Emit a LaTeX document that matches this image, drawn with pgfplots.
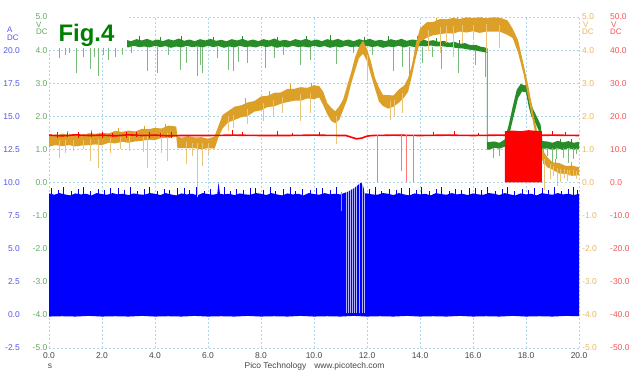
\documentclass[border=0pt]{standalone}
\usepackage{pgfplots}
\pgfplotsset{compat=1.18}
\usepackage{fontspec}
\setmainfont{Liberation Sans}
\definecolor{trblue}{RGB}{0,0,255}
\definecolor{trgreen}{RGB}{40,140,40}
\definecolor{trorange}{RGB}{220,160,40}
\definecolor{trred}{RGB}{255,0,0}
\definecolor{spgreen}{RGB}{120,186,120}
\definecolor{sporange}{RGB}{236,196,120}
\definecolor{spred}{RGB}{255,120,120}
\definecolor{lblblue}{RGB}{85,85,235}
\definecolor{lblgreen}{RGB}{100,165,100}
\definecolor{lblorange}{RGB}{232,182,90}
\definecolor{lblred}{RGB}{245,85,85}
\definecolor{gridc}{RGB}{175,215,235}
\definecolor{lblgray}{RGB}{70,70,70}
\definecolor{figgreen}{RGB}{0,128,0}
\pgfplotsset{
  base/.style={at={(0bp,0bp)}, anchor=south west, scale only axis,
    width=530bp, height=331bp, xmin=0, xmax=20,
    axis line style={draw=none}, major tick length=0pt,
    tick style={draw=none},
    tick label style={font=\fontsize{8.5}{10}\selectfont, inner sep=0pt},
    /pgf/number format/fixed, /pgf/number format/fixed zerofill,
    /pgf/number format/precision=1, /pgf/number format/assume math mode=true},
}
\begin{document}
\begin{tikzpicture}
\useasboundingbox (-49bp,-28bp) rectangle (585bp,348bp);
\begin{axis}[base, ymin=-5, ymax=5, xtick={0,2,4,6,8,10,12,14,16,18,20},
  ytick={-5,-4,-3,-2,-1,0,1,2,3,4,5},
  grid=major, major grid style={draw=gridc, dash pattern=on 2bp off 2bp, line width=0.6bp},
  xticklabel style={text=lblgray, anchor=north, yshift=-4bp},
  yticklabel style={text=lblgreen, anchor=east, xshift=-1.5bp},
  unbounded coords=jump]
% ---- Channel A (blue), current
\addplot[draw=none, fill=trblue] coordinates {
(0.0,-0.33)(0.2,-0.37)(0.4,-0.32)(0.6,-0.36)(0.8,-0.39)(1.0,-0.33)(1.2,-0.36)(1.4,-0.34)(1.6,-0.39)(1.8,-0.32)
(2.0,-0.35)(2.2,-0.37)(2.4,-0.32)(2.6,-0.36)(2.8,-0.34)(3.0,-0.38)(3.2,-0.33)(3.4,-0.36)(3.6,-0.37)(3.8,-0.32)
(4.0,-0.34)(4.2,-0.38)(4.4,-0.32)(4.6,-0.36)(4.8,-0.39)(5.0,-0.33)(5.2,-0.36)(5.4,-0.34)(5.6,-0.39)(5.8,-0.32)
(6.0,-0.35)(6.2,-0.37)(6.35,-0.34)(6.4,0.0)(6.45,-0.34)(6.6,-0.36)(6.8,-0.34)(7.0,-0.38)(7.2,-0.33)(7.4,-0.36)(7.6,-0.37)(7.8,-0.32)
(8.0,-0.34)(8.2,-0.38)(8.4,-0.32)(8.6,-0.36)(8.8,-0.39)(9.0,-0.33)(9.2,-0.36)(9.4,-0.34)(9.6,-0.39)(9.8,-0.32)
(10.0,-0.35)(10.2,-0.37)(10.4,-0.32)(10.6,-0.36)(10.8,-0.34)(11.0,-0.36)(11.2,-0.30)(11.3,-0.27)(11.4,-0.22)(11.5,-0.18)
(11.6,-0.12)(11.7,-0.05)(11.78,0.0)(11.85,-0.10)(11.92,-0.33)(12.0,-0.33)(12.2,-0.36)(12.4,-0.37)(12.6,-0.32)(12.8,-0.34)
(13.0,-0.38)(13.2,-0.32)(13.4,-0.36)(13.6,-0.39)(13.8,-0.33)(14.0,-0.36)(14.2,-0.34)(14.4,-0.39)(14.6,-0.32)(14.8,-0.35)
(15.0,-0.37)(15.2,-0.32)(15.4,-0.36)(15.6,-0.34)(15.8,-0.38)(16.0,-0.33)(16.2,-0.36)(16.4,-0.37)(16.6,-0.32)(16.8,-0.34)
(17.0,-0.38)(17.2,-0.32)(17.4,-0.36)(17.6,-0.39)(17.8,-0.33)(18.0,-0.36)(18.2,-0.34)(18.4,-0.39)(18.6,-0.32)(18.8,-0.35)
(19.0,-0.37)(19.2,-0.32)(19.4,-0.36)(19.6,-0.34)(19.8,-0.38)(20.0,-0.34)
(20,-4.04)(19.5,-4.03)(19,-4.05)(18.5,-4.04)(18,-4.05)(17.5,-4.03)(17,-4.05)(16.5,-4.04)(16,-4.05)(15.5,-4.03)
(15,-4.05)(14.5,-4.04)(14,-4.05)(13.5,-4.03)(13,-4.05)(12.5,-4.04)(12,-4.05)(11.5,-4.03)(11,-4.05)(10.5,-4.04)
(10,-4.05)(9.5,-4.03)(9,-4.05)(8.5,-4.04)(8,-4.05)(7.5,-4.03)(7,-4.05)(6.5,-4.04)(6,-4.05)(5.5,-4.03)
(5,-4.05)(4.5,-4.04)(4,-4.05)(3.5,-4.03)(3,-4.05)(2.5,-4.04)(2,-4.05)(1.5,-4.03)(1,-4.05)(0.5,-4.04)(0,-4.05)};
% blue noise on the top edge
\addplot[trblue, line width=0.6bp] coordinates {
(0.10,-0.4)(0.10,-0.18)(0.10,nan)(0.35,-0.4)(0.35,-0.24)(0.35,nan)(0.55,-0.4)(0.55,-0.15)(0.55,nan)(0.85,-0.4)(0.85,-0.27)(0.85,nan)
(1.10,-0.4)(1.10,-0.20)(1.10,nan)(1.30,-0.4)(1.30,-0.13)(1.30,nan)(1.55,-0.4)(1.55,-0.25)(1.55,nan)(1.85,-0.4)(1.85,-0.19)(1.85,nan)
(2.10,-0.4)(2.10,-0.22)(2.10,nan)(2.30,-0.4)(2.30,-0.16)(2.30,nan)(2.60,-0.4)(2.60,-0.18)(2.60,nan)(2.85,-0.4)(2.85,-0.24)(2.85,nan)
(3.05,-0.4)(3.05,-0.15)(3.05,nan)(3.35,-0.4)(3.35,-0.27)(3.35,nan)(3.60,-0.4)(3.60,-0.20)(3.60,nan)(3.80,-0.4)(3.80,-0.13)(3.80,nan)
(4.10,-0.4)(4.10,-0.25)(4.10,nan)(4.35,-0.4)(4.35,-0.19)(4.35,nan)(4.55,-0.4)(4.55,-0.22)(4.55,nan)(4.85,-0.4)(4.85,-0.16)(4.85,nan)
(5.10,-0.4)(5.10,-0.18)(5.10,nan)(5.30,-0.4)(5.30,-0.24)(5.30,nan)(5.55,-0.4)(5.55,-0.15)(5.55,nan)(5.85,-0.4)(5.85,-0.27)(5.85,nan)
(6.10,-0.4)(6.10,-0.20)(6.10,nan)(6.60,-0.4)(6.60,-0.13)(6.60,nan)(6.85,-0.4)(6.85,-0.25)(6.85,nan)(7.05,-0.4)(7.05,-0.19)(7.05,nan)
(7.35,-0.4)(7.35,-0.22)(7.35,nan)(7.60,-0.4)(7.60,-0.16)(7.60,nan)(7.80,-0.4)(7.80,-0.18)(7.80,nan)(8.10,-0.4)(8.10,-0.24)(8.10,nan)
(8.35,-0.4)(8.35,-0.15)(8.35,nan)(8.55,-0.4)(8.55,-0.27)(8.55,nan)(8.85,-0.4)(8.85,-0.20)(8.85,nan)(9.10,-0.4)(9.10,-0.13)(9.10,nan)
(9.30,-0.4)(9.30,-0.25)(9.30,nan)(9.55,-0.4)(9.55,-0.19)(9.55,nan)(9.85,-0.4)(9.85,-0.22)(9.85,nan)(10.10,-0.4)(10.10,-0.16)(10.10,nan)
(10.30,-0.4)(10.30,-0.18)(10.30,nan)(10.60,-0.4)(10.60,-0.24)(10.60,nan)(10.85,-0.4)(10.85,-0.15)(10.85,nan)
(12.10,-0.4)(12.10,-0.20)(12.10,nan)(12.30,-0.4)(12.30,-0.13)(12.30,nan)(12.55,-0.4)(12.55,-0.25)(12.55,nan)(12.85,-0.4)(12.85,-0.19)(12.85,nan)
(13.10,-0.4)(13.10,-0.22)(13.10,nan)(13.30,-0.4)(13.30,-0.16)(13.30,nan)(13.60,-0.4)(13.60,-0.18)(13.60,nan)(13.85,-0.4)(13.85,-0.24)(13.85,nan)
(14.05,-0.4)(14.05,-0.15)(14.05,nan)(14.35,-0.4)(14.35,-0.27)(14.35,nan)(14.60,-0.4)(14.60,-0.20)(14.60,nan)(14.80,-0.4)(14.80,-0.13)(14.80,nan)
(15.10,-0.4)(15.10,-0.25)(15.10,nan)(15.35,-0.4)(15.35,-0.19)(15.35,nan)(15.55,-0.4)(15.55,-0.22)(15.55,nan)(15.85,-0.4)(15.85,-0.16)(15.85,nan)
(16.10,-0.4)(16.10,-0.18)(16.10,nan)(16.30,-0.4)(16.30,-0.24)(16.30,nan)(16.55,-0.4)(16.55,-0.15)(16.55,nan)(16.85,-0.4)(16.85,-0.27)(16.85,nan)
(17.10,-0.4)(17.10,-0.20)(17.10,nan)(17.30,-0.4)(17.30,-0.13)(17.30,nan)(17.55,-0.4)(17.55,-0.25)(17.55,nan)(17.85,-0.4)(17.85,-0.19)(17.85,nan)
(18.10,-0.4)(18.10,-0.22)(18.10,nan)(18.30,-0.4)(18.30,-0.16)(18.30,nan)(18.60,-0.4)(18.60,-0.18)(18.60,nan)(18.85,-0.4)(18.85,-0.24)(18.85,nan)
(19.05,-0.4)(19.05,-0.15)(19.05,nan)(19.35,-0.4)(19.35,-0.27)(19.35,nan)(19.60,-0.4)(19.60,-0.20)(19.60,nan)(19.80,-0.4)(19.80,-0.14)(19.80,nan)
(19.95,-0.4)(19.95,-0.22)};
% gaps in the blue trace
\addplot[white, opacity=0.7, line width=0.9bp] coordinates {
(11.22,-3.95)(11.22,0.0)(11.22,nan)(11.30,-3.95)(11.30,0.0)(11.30,nan)(11.38,-3.95)(11.38,0.0)(11.38,nan)
(11.46,-3.95)(11.46,0.0)(11.46,nan)(11.54,-3.95)(11.54,0.0)(11.54,nan)(11.62,-3.95)(11.62,0.0)(11.62,nan)
(11.70,-3.95)(11.70,0.0)(11.70,nan)(11.81,-3.95)(11.81,0.05)(11.81,nan)(11.90,-3.95)(11.90,0.0)};
\addplot[color={rgb,255:red,140;green,140;blue,255}, line width=0.8bp] coordinates {(11.05,-0.30)(11.05,-0.85)};
% ---- Channel B (green)
\addplot[draw=none, fill=trgreen] coordinates {
(0,4.30)(1,4.30)(2,4.30)(2.9,4.31)(3.1,4.27)(3.3,4.33)(3.5,4.29)(3.7,4.34)(3.9,4.28)(4.1,4.32)(4.3,4.27)(4.5,4.33)
(4.7,4.29)(4.9,4.35)(5.1,4.28)(5.3,4.32)(5.5,4.27)(5.7,4.33)(5.9,4.29)(6.1,4.34)(6.3,4.28)(6.5,4.31)(6.7,4.27)
(6.9,4.33)(7.1,4.29)(7.3,4.34)(7.5,4.28)(7.7,4.32)(7.9,4.27)(8.1,4.33)(8.3,4.29)(8.5,4.35)(8.7,4.28)(8.9,4.31)
(9.1,4.27)(9.3,4.33)(9.5,4.29)(9.7,4.34)(9.9,4.28)(10.1,4.32)(10.3,4.27)(10.5,4.33)(10.7,4.29)(10.9,4.34)(11.1,4.28)
(11.3,4.32)(11.5,4.27)(11.7,4.33)(11.9,4.29)(12.1,4.34)(12.3,4.28)(12.5,4.31)(12.7,4.27)(12.9,4.33)(13.1,4.29)
(13.3,4.34)(13.5,4.28)(13.7,4.32)(13.9,4.30)(14.1,4.33)(14.3,4.27)(14.5,4.30)(14.7,4.25)(14.9,4.28)(15.1,4.22)
(15.3,4.25)(15.5,4.19)(15.7,4.21)(15.9,4.15)(16.1,4.16)(16.3,4.10)(16.45,4.08)(16.55,4.05)
(16.55,1.22)(16.8,1.24)(17.0,1.20)(17.2,1.30)(17.35,1.75)(17.5,2.3)(17.65,2.8)(17.8,2.98)(17.95,2.93)(18.05,2.98)
(18.15,2.55)(18.25,2.25)(18.4,2.0)(18.55,1.75)(18.62,1.25)(18.8,1.24)(19.0,1.20)(19.2,1.26)(19.4,1.21)(19.6,1.25)
(19.8,1.20)(20,1.23)
(20,1.02)(19.8,0.99)(19.6,1.04)(19.4,0.98)(19.2,1.03)(19.0,0.99)(18.8,1.03)(18.6,1.01)(18.52,1.5)(18.35,1.8)
(18.2,2.0)(18.1,2.3)(18.0,2.72)(17.85,2.75)(17.7,2.55)(17.55,2.05)(17.4,1.55)(17.25,1.1)(17.0,1.02)(16.8,1.05)
(16.6,0.99)(16.52,1.0)(16.52,3.92)
(16.4,3.94)(16.2,3.97)(16.0,4.00)(15.8,4.02)(15.6,4.05)(15.4,4.06)(15.2,4.09)(15.0,4.10)(14.8,4.12)(14.6,4.11)
(14.4,4.14)(14.2,4.11)(14.0,4.13)(13.8,4.09)(13.6,4.12)(13.4,4.08)(13.2,4.13)(13.0,4.09)(12.8,4.11)(12.6,4.07)
(12.4,4.12)(12.2,4.09)(12.0,4.13)(11.8,4.08)(11.6,4.11)(11.4,4.09)(11.2,4.13)(11.0,4.08)(10.8,4.11)(10.6,4.07)
(10.4,4.12)(10.2,4.09)(10.0,4.13)(9.8,4.08)(9.6,4.11)(9.4,4.09)(9.2,4.13)(9.0,4.08)(8.8,4.11)(8.6,4.07)
(8.4,4.12)(8.2,4.09)(8.0,4.13)(7.8,4.08)(7.6,4.11)(7.4,4.09)(7.2,4.13)(7.0,4.08)(6.8,4.11)(6.6,4.07)
(6.4,4.12)(6.2,4.09)(6.0,4.13)(5.8,4.08)(5.6,4.11)(5.4,4.09)(5.2,4.13)(5.0,4.08)(4.8,4.11)(4.6,4.07)
(4.4,4.12)(4.2,4.09)(4.0,4.13)(3.8,4.08)(3.6,4.11)(3.4,4.09)(3.2,4.13)(3.0,4.08)(2.9,4.10)(2,4.10)(1,4.10)(0,4.10)};
% green noise above the band
\addplot[trgreen, line width=0.6bp] coordinates {
(3.4,4.25)(3.4,4.42)(3.4,nan)(4.2,4.25)(4.2,4.40)(4.2,nan)(5.0,4.25)(5.0,4.44)(5.0,nan)(6.2,4.25)(6.2,4.41)(6.2,nan)
(7.3,4.25)(7.3,4.43)(7.3,nan)(8.6,4.25)(8.6,4.40)(8.6,nan)(9.7,4.25)(9.7,4.42)(9.7,nan)(10.6,4.25)(10.6,4.45)(10.6,nan)
(11.9,4.25)(11.9,4.40)(11.9,nan)(12.8,4.25)(12.8,4.42)(12.8,nan)(13.9,4.25)(13.9,4.44)(13.9,nan)(14.6,4.22)(14.6,4.38)(14.6,nan)
(15.5,4.15)(15.5,4.30)(15.5,nan)(19.3,1.15)(19.3,1.32)(19.3,nan)(19.7,1.15)(19.7,1.30)};
\addplot[spgreen, line width=0.7bp] coordinates {
(0.4,4.1)(0.4,3.77)(0.4,nan)(0.6,4.1)(0.6,3.85)(0.6,nan)(0.75,4.1)(0.75,3.9)(0.75,nan)(1.05,4.1)(1.05,3.32)(1.05,nan)
(1.3,4.1)(1.3,3.78)(1.3,nan)(1.55,4.1)(1.55,3.43)(1.55,nan)(1.7,4.1)(1.7,3.8)(1.7,nan)(1.85,4.1)(1.85,3.22)(1.85,nan)
(2.05,4.1)(2.05,3.85)(2.05,nan)(2.25,4.1)(2.25,3.7)(2.25,nan)(2.5,4.1)(2.5,3.8)(2.5,nan)(2.75,4.1)(2.75,3.85)(2.75,nan)
(3.1,4.1)(3.1,3.9)(3.1,nan)(3.7,4.1)(3.7,3.37)(3.7,nan)(4.1,4.1)(4.1,3.32)(4.1,nan)(4.5,4.1)(4.5,3.85)(4.5,nan)
(4.95,4.1)(4.95,3.4)(4.95,nan)(5.2,4.1)(5.2,3.6)(5.2,nan)(5.6,4.1)(5.6,3.22)(5.6,nan)(5.7,4.1)(5.7,3.55)(5.7,nan)
(5.8,4.1)(5.8,3.32)(5.8,nan)(6.35,4.1)(6.35,3.75)(6.35,nan)(6.75,4.1)(6.75,3.4)(6.75,nan)(6.95,4.1)(6.95,3.37)(6.95,nan)
(7.15,4.1)(7.15,3.65)(7.15,nan)(7.5,4.1)(7.5,3.6)(7.5,nan)(8.15,4.1)(8.15,3.47)(8.15,nan)(8.5,4.1)(8.5,3.75)(8.5,nan)
(8.85,4.1)(8.85,3.85)(8.85,nan)(9.5,4.1)(9.5,3.55)(9.5,nan)(9.85,4.1)(9.85,3.7)(9.85,nan)(10.85,4.1)(10.85,3.58)(10.85,nan)
(11.5,4.1)(11.5,3.9)(11.5,nan)(12.2,4.1)(12.2,3.85)(12.2,nan)(13.0,4.1)(13.0,3.37)(13.0,nan)(13.35,4.1)(13.35,3.5)(13.35,nan)
(13.6,4.1)(13.6,3.28)(13.6,nan)(14.1,4.1)(14.1,3.6)(14.1,nan)(14.45,4.1)(14.45,3.8)(14.45,nan)(14.8,4.1)(14.8,3.43)(14.8,nan)
(15.45,4.05)(15.45,3.3)(15.45,nan)(16.1,3.98)(16.1,3.55)(16.1,nan)(16.45,3.94)(16.45,3.2)(16.45,nan)
(16.75,1.05)(16.75,0.75)(16.75,nan)(17.0,1.05)(17.0,0.8)(17.0,nan)(18.65,1.05)(18.65,0.57)(18.65,nan)
(18.8,1.05)(18.8,0.8)(18.8,nan)(19.0,1.05)(19.0,0.51)(19.0,nan)(19.15,1.05)(19.15,0.7)(19.15,nan)
(19.4,1.05)(19.4,0.75)(19.4,nan)(19.6,1.05)(19.6,0.6)(19.6,nan)(19.8,1.05)(19.8,0.7)(19.8,nan)(19.9,1.05)(19.9,0.85)};
% ---- Channel C (orange)
\addplot[draw=none, fill=trorange] coordinates {
(0.00,1.45)(0.25,1.41)(0.50,1.48)(0.75,1.43)(1.00,1.46)(1.25,1.42)(1.50,1.49)(1.75,1.47)(2.00,1.50)(2.25,1.48)
(2.50,1.56)(2.75,1.53)(3.00,1.57)(3.25,1.54)(3.50,1.62)(3.75,1.61)(4.00,1.65)(4.25,1.63)(4.50,1.72)(4.80,1.69)
(4.85,1.40)(5.00,1.35)(5.25,1.40)(5.50,1.36)(5.75,1.37)(6.00,1.32)(6.25,1.40)(6.40,1.72)(6.55,2.04)(6.75,2.15)
(7.00,2.29)(7.25,2.33)(7.50,2.42)(7.75,2.46)(8.00,2.60)(8.25,2.62)(8.50,2.71)(8.75,2.72)(9.00,2.83)(9.25,2.83)
(9.50,2.88)(9.75,2.86)(10.00,2.94)(10.20,2.91)(10.35,2.74)(10.50,2.40)(10.65,2.26)(10.80,2.15)(10.95,2.30)(11.10,2.51)
(11.25,2.92)(11.40,3.32)(11.55,3.79)(11.70,4.10)(11.85,4.29)(12.00,4.03)(12.15,3.65)(12.30,3.16)(12.45,2.87)(12.60,2.65)
(12.80,2.64)(13.00,2.63)(13.20,2.81)(13.40,2.93)(13.55,3.15)(13.70,3.56)(13.85,4.22)(14.00,4.65)(14.25,4.84)(14.50,4.85)
(14.75,4.94)(15.00,4.93)(15.25,4.97)(15.50,4.94)(15.75,4.99)(16.00,4.97)(16.25,4.99)(16.50,4.96)(16.75,4.99)(17.00,4.98)
(17.30,4.90)(17.50,4.64)(17.70,4.30)(17.90,3.60)(18.10,2.87)(18.30,1.98)(18.45,1.44)(18.60,1.01)(18.80,0.77)(19.00,0.61)
(19.25,0.59)(19.50,0.50)(19.75,0.51)(20.00,0.46)
(20.00,0.22)(19.75,0.20)(19.50,0.26)(19.25,0.27)(19.00,0.39)(18.80,0.46)(18.60,0.69)(18.45,1.08)(18.30,1.68)(18.10,2.50)
(17.90,3.30)(17.70,3.92)(17.50,4.36)(17.30,4.46)(17.00,4.56)(16.75,4.56)(16.50,4.56)(16.25,4.52)(16.00,4.57)(15.75,4.53)
(15.50,4.56)(15.25,4.50)(15.00,4.51)(14.75,4.48)(14.50,4.45)(14.25,4.37)(14.00,4.25)(13.85,3.80)(13.70,3.24)(13.55,2.74)
(13.40,2.57)(13.20,2.41)(13.00,2.29)(12.80,2.23)(12.60,2.31)(12.45,2.45)(12.30,2.84)(12.15,3.24)(12.00,3.67)(11.85,3.89)
(11.70,3.76)(11.55,3.38)(11.40,2.98)(11.25,2.50)(11.10,2.19)(10.95,1.89)(10.80,1.79)(10.65,1.86)(10.50,2.06)(10.35,2.33)
(10.20,2.57)(10.00,2.52)(9.75,2.54)(9.50,2.47)(9.25,2.47)(9.00,2.43)(8.75,2.38)(8.50,2.30)(8.25,2.28)(8.00,2.18)
(7.75,2.14)(7.50,2.01)(7.25,1.97)(7.00,1.89)(6.75,1.81)(6.55,1.63)(6.40,1.38)(6.25,1.02)(6.00,1.04)(5.75,1.00)
(5.50,1.04)(5.25,1.04)(5.00,1.05)(4.85,1.03)(4.80,1.39)(4.50,1.34)(4.25,1.35)(4.00,1.28)(3.75,1.29)(3.50,1.26)
(3.25,1.24)(3.00,1.20)(2.75,1.23)(2.50,1.18)(2.25,1.20)(2.00,1.13)(1.75,1.15)(1.50,1.13)(1.25,1.12)(1.00,1.09)
(0.75,1.13)(0.50,1.10)(0.25,1.13)(0.00,1.08)};
% orange noise above the band
\addplot[trorange, line width=0.6bp] coordinates {
(0.7,1.4)(0.7,1.55)(0.7,nan)(1.6,1.4)(1.6,1.58)(1.6,nan)(2.6,1.5)(2.6,1.66)(2.6,nan)(3.6,1.55)(3.6,1.72)(3.6,nan)
(4.4,1.6)(4.4,1.78)(4.4,nan)(7.4,2.35)(7.4,2.55)(7.4,nan)(8.3,2.55)(8.3,2.75)(8.3,nan)(9.1,2.75)(9.1,2.97)(9.1,nan)
(9.9,2.85)(9.9,3.02)(9.9,nan)(14.6,4.8)(14.6,4.97)(14.6,nan)(15.4,4.9)(15.4,5.0)(15.4,nan)(16.3,4.9)(16.3,5.0)(16.3,nan)
(19.1,0.55)(19.1,0.72)(19.1,nan)(19.7,0.45)(19.7,0.62)};
\addplot[sporange, line width=0.7bp] coordinates {
(0.4,1.27)(0.4,0.75)(0.4,nan)(0.6,1.27)(0.6,0.9)(0.6,nan)(0.9,1.28)(0.9,0.95)(0.9,nan)(1.3,1.29)(1.3,1.0)(1.3,nan)
(1.55,1.3)(1.55,0.66)(1.55,nan)(1.85,1.31)(1.85,0.45)(1.85,nan)(2.3,1.34)(2.3,0.9)(2.3,nan)(2.7,1.37)(2.7,1.0)(2.7,nan)
(3.05,1.4)(3.05,0.95)(3.05,nan)(3.55,1.43)(3.55,0.91)(3.55,nan)(3.7,1.44)(3.7,0.45)(3.7,nan)(4.25,1.49)(4.25,0.9)(4.25,nan)
(4.45,1.5)(4.45,0.66)(4.45,nan)(5.2,1.21)(5.2,0.57)(5.2,nan)(5.4,1.2)(5.4,0.8)(5.4,nan)(5.6,1.2)(5.6,-0.45)(5.6,nan)
(5.8,1.19)(5.8,0.5)(5.8,nan)(6.0,1.18)(6.0,0.85)(6.0,nan)(6.75,2.0)(6.75,1.57)(6.75,nan)(6.95,2.05)(6.95,1.65)(6.95,nan)
(7.5,2.22)(7.5,1.78)(7.5,nan)(8.1,2.4)(8.1,1.85)(8.1,nan)(8.45,2.5)(8.45,2.0)(8.45,nan)(8.8,2.58)(8.8,2.1)(8.8,nan)
(9.47,2.67)(9.47,1.87)(9.47,nan)(9.85,2.7)(9.85,2.1)(9.85,nan)(10.85,2.0)(10.85,1.17)(10.85,nan)(12.0,3.85)(12.0,3.07)(12.0,nan)
(12.87,2.45)(12.87,1.9)(12.87,nan)(13.05,2.5)(13.05,2.0)(13.05,nan)(13.35,2.7)(13.35,2.1)(13.35,nan)
(14.3,4.62)(14.3,3.97)(14.3,nan)(14.75,4.7)(14.75,3.9)(14.75,nan)(15.0,4.72)(15.0,4.2)(15.0,nan)(15.25,4.74)(15.25,3.8)(15.25,nan)
(15.6,4.75)(15.6,4.2)(15.6,nan)(16.0,4.77)(16.0,4.3)(16.0,nan)(16.5,4.78)(16.5,3.95)(16.5,nan)(17.0,4.77)(17.0,4.05)(17.0,nan)
(18.7,0.7)(18.7,-0.24)(18.7,nan)(18.9,0.55)(18.9,0.1)(18.9,nan)(19.05,0.5)(19.05,0.2)(19.05,nan)(19.2,0.45)(19.2,-0.1)(19.2,nan)
(19.3,0.42)(19.3,0.0)(19.3,nan)(19.45,0.4)(19.45,0.15)(19.45,nan)(19.55,0.38)(19.55,0.05)(19.55,nan)(19.65,0.38)(19.65,0.2)(19.65,nan)
(19.8,0.37)(19.8,0.2)(19.8,nan)(19.9,0.36)(19.9,0.1)};
% ---- Channel D (red)
\addplot[trred, line width=1.6bp] coordinates {
(0,1.43)(0.5,1.41)(1,1.44)(1.5,1.42)(2,1.43)(2.5,1.41)(3,1.44)(3.5,1.42)(4,1.43)(4.5,1.41)(5,1.42)(6,1.42)
(7,1.43)(8,1.42)(9,1.42)(10,1.43)(11,1.42)(11.2,1.42)(11.4,1.37)(11.6,1.32)(11.8,1.34)(12.0,1.40)(12.2,1.42)
(13,1.43)(14,1.42)(15,1.43)(16,1.42)(17,1.43)(18,1.42)(19,1.43)(20,1.42)};
\addplot[trred, line width=0.7bp] coordinates {
(0.3,1.35)(0.3,1.52)(0.3,nan)(0.7,1.36)(0.7,1.51)(0.7,nan)(1.1,1.34)(1.1,1.53)(1.1,nan)(1.6,1.36)(1.6,1.52)(1.6,nan)
(2.0,1.35)(2.0,1.54)(2.0,nan)(2.4,1.36)(2.4,1.51)(2.4,nan)(2.9,1.35)(2.9,1.53)(2.9,nan)(3.3,1.36)(3.3,1.52)(3.3,nan)
(3.8,1.35)(3.8,1.54)(3.8,nan)(4.2,1.36)(4.2,1.51)(4.2,nan)(4.6,1.35)(4.6,1.53)(4.6,nan)
(6.9,1.42)(6.9,1.58)(6.9,nan)(7.3,1.42)(7.3,1.52)(7.3,nan)(8.6,1.42)(8.6,1.55)(8.6,nan)(9.2,1.42)(9.2,1.5)(9.2,nan)
(10.2,1.42)(10.2,1.52)(10.2,nan)(14.5,1.42)(14.5,1.52)(14.5,nan)(15.3,1.42)(15.3,1.55)(15.3,nan)(16.2,1.42)(16.2,1.5)(16.2,nan)
(19.0,1.42)(19.0,1.55)(19.0,nan)(19.5,1.42)(19.5,1.52)};
\addplot[spred, line width=0.8bp] coordinates {
(12.4,1.42)(12.4,0.0)(12.4,nan)(13.3,1.42)(13.3,0.36)(13.3,nan)(13.5,1.42)(13.5,0.0)(13.5,nan)(13.75,1.42)(13.75,0.0)};
\addplot[draw=none, fill=trred] coordinates {
(17.2,0.0)(17.2,1.55)(17.5,1.57)(17.8,1.55)(18.1,1.58)(18.4,1.56)(18.6,1.55)(18.6,0.0)};
\end{axis}
% ---- blue scale (A)
\begin{axis}[base, ymin=-2.5, ymax=22.5, xtick=\empty,
  ytick={-2.5,0,2.5,5,7.5,10,12.5,15,17.5,20},
  yticklabel style={text=lblblue, anchor=east, xshift=-29bp}]
\end{axis}
% ---- orange scale (C)
\begin{axis}[base, ymin=-5, ymax=5, xtick=\empty, yticklabel pos=right,
  ytick={-5,-4,-3,-2,-1,0,1,2,3,4,5},
  yticklabel style={text=lblorange, anchor=west, xshift=3bp}]
\end{axis}
% ---- red scale (D)
\begin{axis}[base, ymin=-50, ymax=50, xtick=\empty, yticklabel pos=right,
  ytick={-50,-40,-30,-20,-10,0,10,20,30,40,50},
  yticklabel style={text=lblred, anchor=west, xshift=31bp}]
\end{axis}
% ---- title box and labels
\fill[white] (0bp,300bp) rectangle (78bp,337bp);
\node[anchor=base, text=figgreen, font=\bfseries\fontsize{24}{24}\selectfont, inner sep=0pt] at (37.5bp,306bp) {Fig.4};
\begin{scope}[font=\fontsize{8}{9}\selectfont, inner sep=0pt]
\node[text=lblblue, anchor=west] at (-42bp,318bp) {A};
\node[text=lblblue, anchor=west] at (-42bp,310bp) {DC};
\node[text=lblgreen, anchor=west] at (-13bp,323bp) {V};
\node[text=lblgreen, anchor=west] at (-13bp,316bp) {DC};
\node[text=lblorange, anchor=west] at (534bp,323bp) {V};
\node[text=lblorange, anchor=west] at (533bp,316bp) {DC};
\node[text=lblred, anchor=west] at (562bp,323bp) {V};
\node[text=lblred, anchor=west] at (561bp,316bp) {DC};
\end{scope}
\node[text=lblgray, font=\fontsize{8.5}{10}\selectfont, inner sep=0pt] at (1bp,-18bp) {s};
\node[text=lblgray, font=\fontsize{8.5}{10}\selectfont, inner sep=0pt] at (265.5bp,-18.5bp) {Pico Technology\hspace{8bp}www.picotech.com};
\end{tikzpicture}
\end{document}
